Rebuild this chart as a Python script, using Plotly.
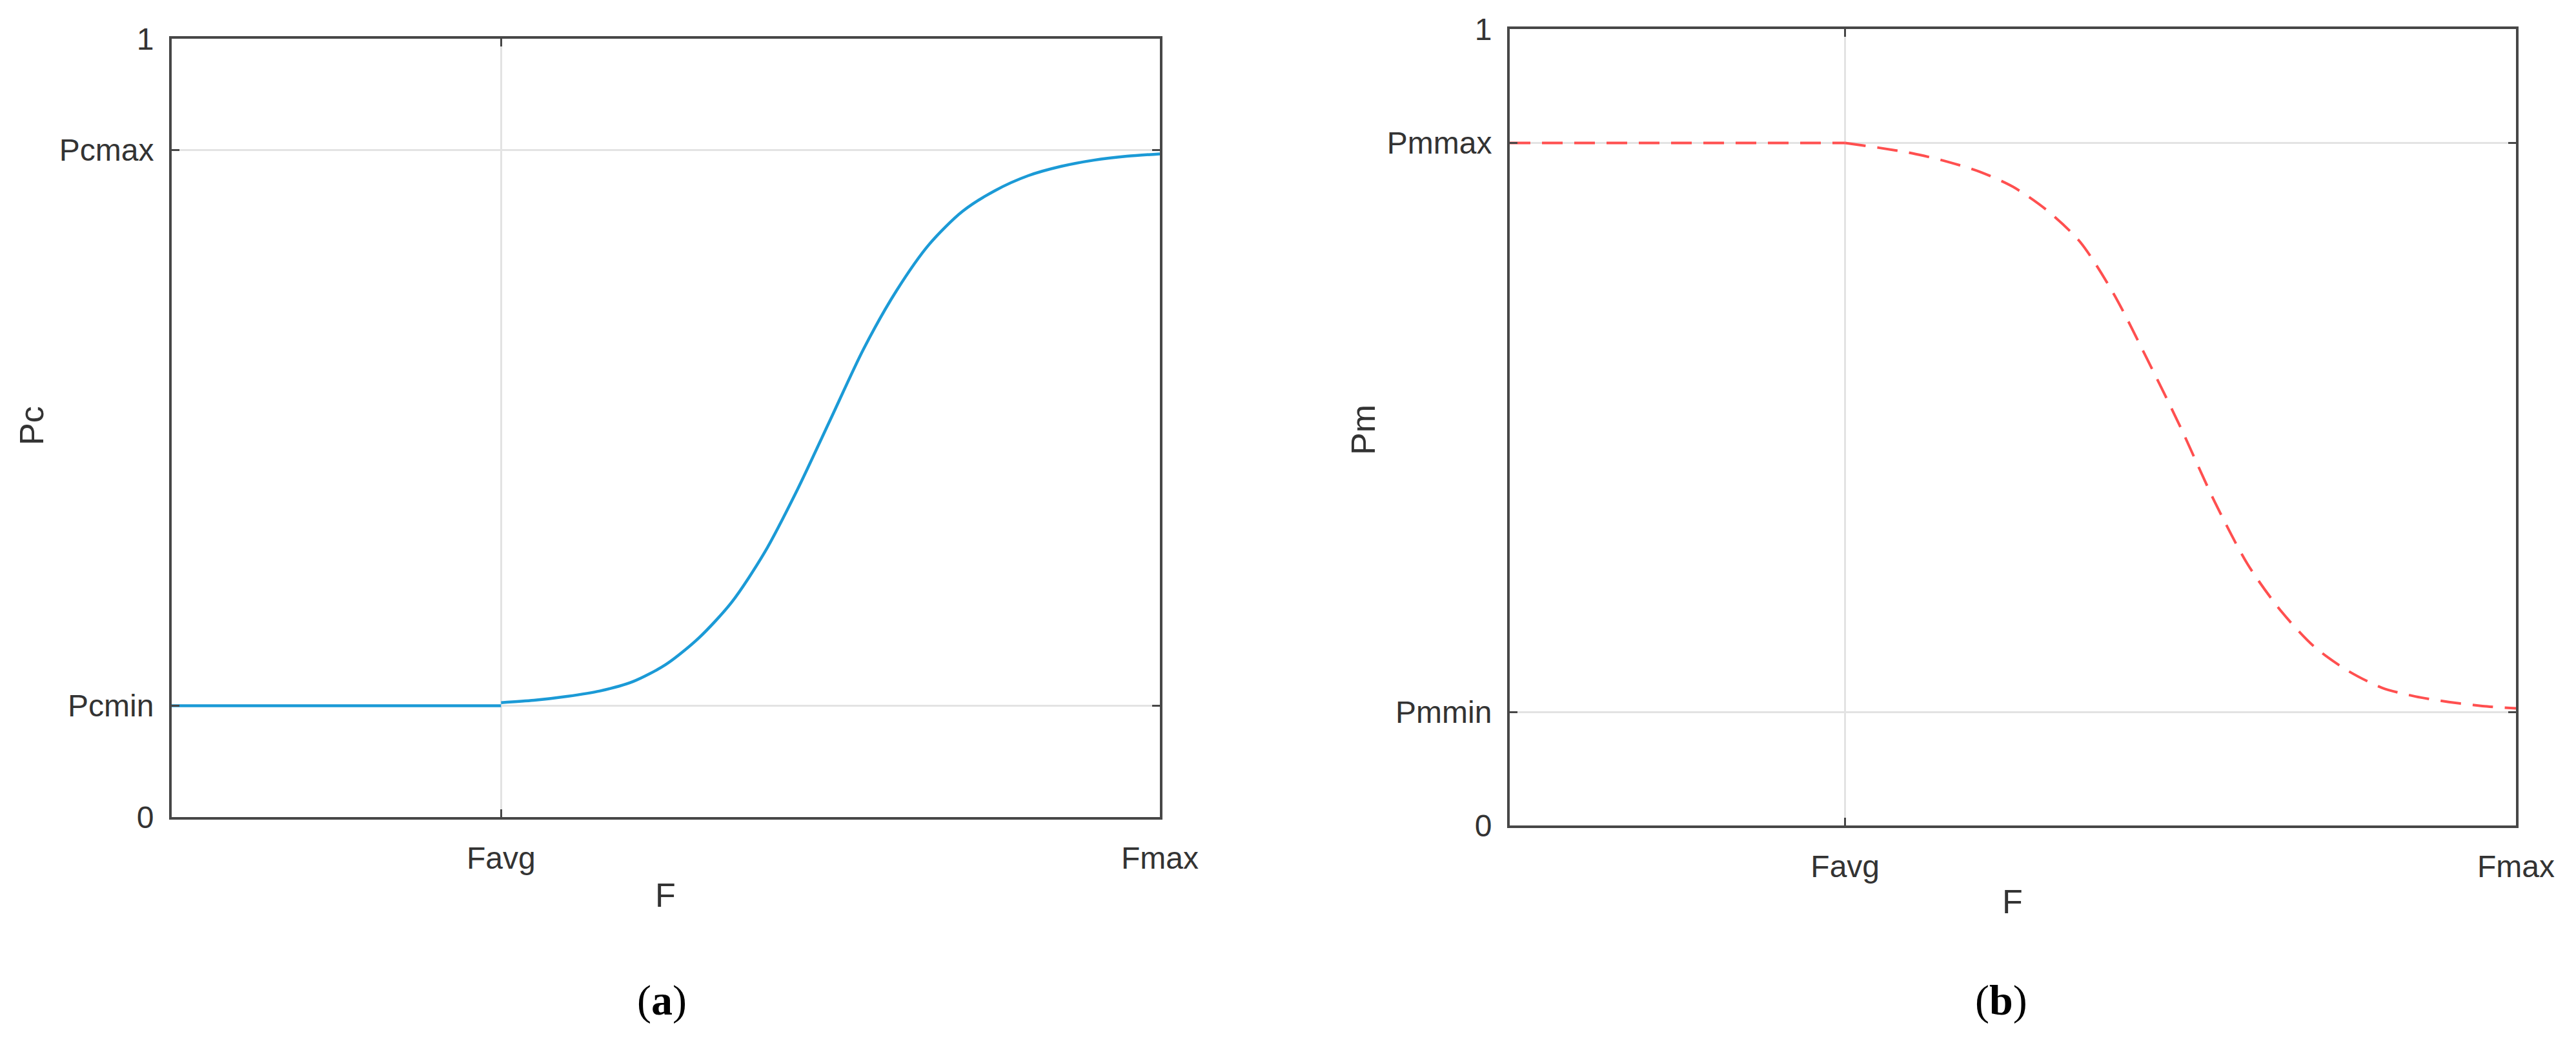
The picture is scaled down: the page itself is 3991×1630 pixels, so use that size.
import plotly.graph_objects as go

# x ticks (F axis)
f_ticks = [1.0, 3.0]
f_labels = ["Favg", "Fmax"]

# y ticks, crossover panel
pc_ticks = [0, 0.143, 0.857, 1]
pc_labels = ["0", "Pcmin", "Pcmax", "1"]

# y ticks, mutation panel
pm_ticks = [0, 0.1425, 0.857, 1]
pm_labels = ["0", "Pmmin", "Pmmax", "1"]

# crossover probability: flat part up to Favg, then the rising curve
pc_flat_f = [0.0, 1.0]
pc_flat_val = [0.143, 0.143]
pc_f = [1.0, 1.1, 1.2, 1.3, 1.4, 1.5, 1.6, 1.7, 1.8, 1.9, 2.0,
        2.1, 2.2, 2.3, 2.4, 2.5, 2.6, 2.7, 2.8, 2.9, 3.0]
pc_val = [0.147, 0.150, 0.155, 0.162, 0.174, 0.196, 0.230, 0.276, 0.340, 0.421, 0.511,
          0.601, 0.676, 0.736, 0.778, 0.805, 0.824, 0.836, 0.844, 0.849, 0.852]

# mutation probability: flat part up to Favg, then the falling curve
pm_flat_f = [0.0, 1.0]
pm_flat_val = [0.857, 0.857]
pm_f = [1.0, 1.1, 1.2, 1.3, 1.4, 1.5, 1.6, 1.7, 1.8, 1.9, 2.0,
        2.1, 2.2, 2.3, 2.4, 2.5, 2.6, 2.7, 2.8, 2.9, 3.0]
pm_val = [0.857, 0.851, 0.844, 0.834, 0.821, 0.802, 0.773, 0.733, 0.668, 0.586, 0.500,
          0.408, 0.328, 0.269, 0.224, 0.194, 0.173, 0.162, 0.155, 0.150, 0.147]

W, H = 3991, 1630
OFF = 8  # the page body adds an 8px margin, shift everything back by it

tick_font = dict(family="Liberation Sans, Arial", size=48, color="#333333")
title_font = dict(family="Liberation Sans, Arial", size=52, color="#333333")
label_font = dict(family="Liberation Serif, Times New Roman", size=66, color="black")

blue = dict(color="#1b9ad6", width=4.5)
red = dict(color="#ff4f4f", width=4, dash="32px,18px")


def px(x):
    return (x - OFF) / W


def py(y):
    return 1 - (y - OFF) / H


fig = go.Figure()
fig.add_trace(go.Scatter(x=pc_flat_f, y=pc_flat_val, mode="lines", xaxis="x", yaxis="y",
                         line=blue))
fig.add_trace(go.Scatter(x=pc_f, y=pc_val, mode="lines", xaxis="x", yaxis="y",
                         line=dict(**blue, shape="spline", smoothing=0.8)))
fig.add_trace(go.Scatter(x=pm_flat_f, y=pm_flat_val, mode="lines", xaxis="x2", yaxis="y2",
                         line=red))
fig.add_trace(go.Scatter(x=pm_f, y=pm_val, mode="lines", xaxis="x2", yaxis="y2",
                         line=dict(**red, shape="spline", smoothing=0.8)))

common = dict(showline=True, linecolor="#474747", linewidth=4, mirror="ticks",
              ticks="inside", ticklen=12, tickwidth=3, tickcolor="#474747",
              showgrid=True, gridcolor="#e3e3e3", gridwidth=3, zeroline=False,
              tickfont=tick_font, fixedrange=True, automargin=False)

fig.update_layout(
    width=W, height=H, margin=dict(l=0, r=0, t=0, b=0, autoexpand=False),
    paper_bgcolor="white", plot_bgcolor="white", showlegend=False,
    xaxis=dict(domain=[px(266), px(1797)], range=[0, 3], anchor="y",
               tickvals=f_ticks, ticktext=f_labels, ticklabelstandoff=18, **common),
    yaxis=dict(domain=[py(1266), py(60)], range=[0, 1], anchor="x",
               tickvals=pc_ticks, ticktext=pc_labels, ticklabelstandoff=14, **common),
    xaxis2=dict(domain=[px(2339), px(3898)], range=[0, 3], anchor="y2",
                tickvals=f_ticks, ticktext=f_labels, ticklabelstandoff=18, **common),
    yaxis2=dict(domain=[py(1279), py(45)], range=[0, 1], anchor="x2",
                tickvals=pm_ticks, ticktext=pm_labels, ticklabelstandoff=14, **common),
)

annotations = [
    dict(text="F", x=px(1031), y=py(1387), font=title_font),
    dict(text="F", x=px(3118), y=py(1397), font=title_font),
    dict(text="Pc", x=px(49), y=py(660), textangle=-90, font=title_font),
    dict(text="Pm", x=px(2112), y=py(666), textangle=-90, font=title_font),
    dict(text="(<b>a</b>)", x=px(1025), y=py(1550), font=label_font),
    dict(text="(<b>b</b>)", x=px(3100), y=py(1550), font=label_font),
]
for a in annotations:
    fig.add_annotation(xref="paper", yref="paper", showarrow=False,
                       xanchor="center", yanchor="middle", **a)

fig.write_html("out.html")
